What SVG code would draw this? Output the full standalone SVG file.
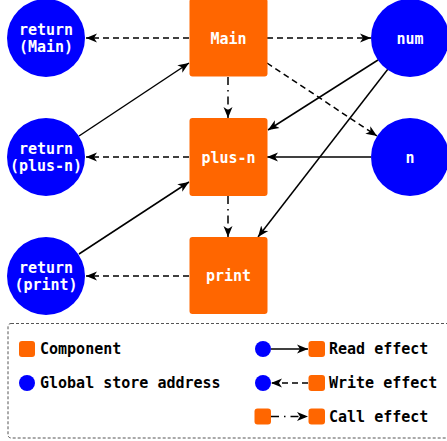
<svg xmlns="http://www.w3.org/2000/svg" width="447" height="441" viewBox="0 0 447 441">
<defs>
<style>
.comp{fill:#ff6600;}
.addr{fill:#0000ff;}
.lbl{font-family:"DejaVu Sans Mono","Liberation Mono",monospace;font-weight:bold;font-size:15px;fill:#ffffff;text-anchor:middle;}
.leg{font-family:"DejaVu Sans Mono","Liberation Mono",monospace;font-weight:bold;font-size:15px;fill:#000000;}
.read{stroke:#000;stroke-width:1.5;fill:none;marker-end:url(#ah);}
.write{stroke:#000;stroke-width:1.5;fill:none;stroke-dasharray:6 4;marker-end:url(#ah);}
.call{stroke:#000;stroke-width:1.5;fill:none;stroke-dasharray:8 5 1.5 5;marker-end:url(#ah);}
</style>
<marker id="ah" markerUnits="userSpaceOnUse" markerWidth="12" markerHeight="10" viewBox="0 0 12 10" refX="11" refY="5" orient="auto">
<path d="M0,0.5 L11,5 L0,9.5 L3,5 Z" fill="#000"/>
</marker>
</defs>
<rect x="0" y="0" width="447" height="441" fill="#ffffff"/>
<g id="connectors">
<line class="write" x1="189" y1="38" x2="86" y2="38"/>
<line class="write" x1="267" y1="38" x2="371" y2="38"/>
<line class="write" x1="267" y1="63" x2="377" y2="136"/>
<line class="call" x1="228" y1="77" x2="228" y2="118"/>
<line class="read" x1="79" y1="136" x2="189" y2="63"/>
<line class="read" x1="378" y1="60" x2="268" y2="130"/>
<line class="read" x1="388" y1="69" x2="258" y2="237"/>
<line class="read" x1="371" y1="157" x2="267" y2="157"/>
<line class="write" x1="189" y1="157" x2="86" y2="157"/>
<line class="call" x1="228" y1="196" x2="228" y2="237"/>
<line class="read" x1="79" y1="254" x2="189" y2="182"/>
<line class="write" x1="189" y1="276" x2="86" y2="276"/>
</g>
<g id="main"><rect class="comp" x="189.5" y="-1.5" width="78" height="78" rx="3"/><text class="lbl" x="228.5" y="43.5">Main</text></g>
<g id="plus-n"><rect class="comp" x="189.5" y="118" width="78" height="78" rx="3"/><text class="lbl" x="228.5" y="162.5">plus-n</text></g>
<g id="print"><rect class="comp" x="189.5" y="237" width="78" height="77" rx="3"/><text class="lbl" x="228.5" y="281">print</text></g>
<g id="return-main"><circle class="addr" cx="46" cy="38" r="39"/><text class="lbl" x="46" y="34.5">return</text><text class="lbl" x="46" y="51.5">(Main)</text></g>
<g id="return-plus-n"><circle class="addr" cx="46" cy="157" r="39"/><text class="lbl" x="46" y="153.5">return</text><text class="lbl" x="46" y="170.5">(plus-n)</text></g>
<g id="return-print"><circle class="addr" cx="46" cy="276" r="39"/><text class="lbl" x="46" y="272.5">return</text><text class="lbl" x="46" y="289.5">(print)</text></g>
<g id="num"><circle class="addr" cx="410" cy="38" r="39"/><text class="lbl" x="410" y="43.5">num</text></g>
<g id="n"><circle class="addr" cx="410" cy="157" r="39"/><text class="lbl" x="410" y="162.5">n</text></g>
<g id="legend">
<rect x="8" y="323.5" width="442" height="114.5" rx="3" fill="none" stroke="#555" stroke-width="1" stroke-dasharray="3 2"/>
<rect class="comp" x="19" y="341" width="16" height="16" rx="3"/>
<text class="leg" x="40" y="354">Component</text>
<circle class="addr" cx="27" cy="383" r="8"/>
<text class="leg" x="40" y="388">Global store address</text>
<circle class="addr" cx="263" cy="349" r="8"/>
<line class="read" x1="271" y1="349" x2="308" y2="349"/>
<rect class="comp" x="308.5" y="341" width="16.5" height="16" rx="3"/>
<text class="leg" x="329" y="354">Read effect</text>
<circle class="addr" cx="263" cy="383" r="8"/>
<line class="write" x1="308" y1="383" x2="271" y2="383"/>
<rect class="comp" x="308.5" y="375" width="16.5" height="16" rx="3"/>
<text class="leg" x="329" y="388">Write effect</text>
<rect class="comp" x="254.5" y="408.5" width="16.5" height="16" rx="3"/>
<line class="call" x1="271" y1="416.5" x2="308" y2="416.5"/>
<rect class="comp" x="308.5" y="408.5" width="16.5" height="16" rx="3"/>
<text class="leg" x="329" y="421.5">Call effect</text>
</g>
</svg>
